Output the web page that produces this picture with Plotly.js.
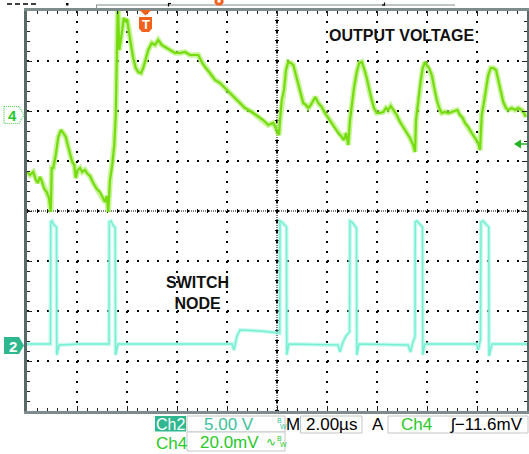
<!DOCTYPE html>
<html><head><meta charset="utf-8">
<script src="https://cdn.plot.ly/plotly-3.0.1.min.js"></script>
<style>html,body{margin:0;padding:0;background:#fff;overflow:hidden}#chart{width:529px;height:454px}</style>
</head><body><div id="chart"></div>
<script>
// Ch4: output voltage (AC, 20 mV/div), time in microseconds
const outTime = [0.00,0.12,0.25,0.35,0.43,0.52,0.59,0.69,0.79,0.88,
0.95,0.99,1.05,1.15,1.25,1.36,1.45,1.55,1.63,1.72,
1.81,1.89,1.95,2.03,2.12,2.21,2.32,2.43,2.52,2.65,
2.79,2.92,3.05,3.12,3.19,3.25,3.32,3.41,3.49,3.55,
3.59,3.63,3.65,3.69,3.76,3.81,3.87,3.95,4.00,4.08,
4.16,4.25,4.35,4.45,4.56,4.65,4.75,4.85,4.99,5.12,
5.25,5.39,5.52,5.72,5.92,6.12,6.32,6.52,6.72,6.85,
6.99,7.12,7.32,7.52,7.72,7.92,8.12,8.32,8.52,8.72,
8.99,9.25,9.45,9.65,9.85,9.99,10.08,10.12,10.19,10.28,
10.36,10.45,10.55,10.65,10.76,10.85,10.95,11.05,11.16,11.25,
11.35,11.45,11.53,11.65,11.79,11.92,12.05,12.19,12.32,12.45,
12.59,12.68,12.76,12.85,12.92,12.99,13.08,13.19,13.29,13.39,
13.48,13.59,13.69,13.79,13.88,13.99,14.12,14.25,14.36,14.45,
14.55,14.65,14.79,14.92,15.05,15.19,15.32,15.45,15.52,15.56,
15.65,15.75,15.83,15.92,15.99,16.09,16.19,16.28,16.39,16.49,
16.59,16.72,16.85,16.99,17.12,17.21,17.32,17.43,17.52,17.65,
17.79,17.92,18.05,18.12,18.19,18.28,18.36,18.45,18.55,18.65,
18.76,18.85,18.95,19.05,19.16,19.25,19.39,19.52,19.65,19.79,
19.88,19.96];
const outMilliVolts = [-22.8,-24.0,-22.8,-26.0,-27.2,-24.8,-26.4,-29.6,-30.8,-33.2,
-38.8,-21.2,-21.2,-16.0,-8.8,-6.0,-7.2,-8.8,-12.0,-16.0,
-18.8,-20.0,-25.2,-22.0,-21.2,-22.8,-22.0,-23.6,-24.4,-27.2,
-29.6,-30.8,-33.2,-34.8,-32.4,-38.8,-26.0,-20.0,-12.0,0.0,
22.0,44.0,41.2,26.0,32.0,34.0,38.8,37.2,38.4,34.0,
28.0,22.8,18.8,17.2,16.8,18.8,22.0,26.0,28.8,28.0,
30.0,28.0,27.2,26.0,24.8,24.8,25.2,24.0,24.0,24.0,
21.2,19.2,16.8,14.0,12.8,10.8,8.8,6.8,4.4,2.8,
1.2,-0.8,-2.0,-4.0,-3.2,-6.0,-8.0,-2.0,6.0,10.0,
18.0,21.2,20.8,20.0,16.0,12.0,8.0,4.8,4.0,2.8,
4.0,6.0,7.2,4.8,3.2,0.8,-1.2,-3.2,-5.2,-7.2,
-8.8,-10.0,-7.2,-12.0,-2.0,4.8,10.8,17.2,20.8,21.2,
18.8,14.8,10.0,6.0,2.8,0.8,0.8,1.2,2.8,2.0,
3.6,2.0,0.0,-2.8,-4.8,-7.2,-9.2,-12.0,-14.8,-2.0,
6.0,14.0,18.8,21.2,20.0,18.8,16.0,10.8,6.0,2.8,
0.8,1.2,0.8,1.2,1.6,2.0,0.0,-1.2,-3.2,-4.8,
-7.2,-9.2,-11.2,-14.0,0.0,5.2,10.8,16.0,18.8,18.8,
18.0,14.0,9.2,5.2,2.8,2.0,2.8,2.0,2.8,2.0,
0.8,-0.8];

// Ch2: switch node (5 V/div)
const swTime = [0,0.94,0.95,1.0,1.08,1.18,1.19,1.24,1.28,2.12,
3.28,3.29,3.36,3.44,3.53,3.54,3.60,3.64,8.2,8.28,
8.4,8.52,9.32,10.11,10.12,10.2,10.38,10.39,10.44,10.48,
12.44,12.52,12.64,12.76,12.9,12.92,13.0,13.18,13.19,13.24,
13.28,15.24,15.34,15.44,15.52,15.53,15.6,15.82,15.83,15.88,
15.92,17.98,18.05,18.14,18.16,18.24,18.47,18.48,18.54,18.6,20];
const swVolts = [0.1,0.1,12.3,12.4,12.0,11.8,-1.0,-0.5,0.0,0.1,
0.1,12.3,12.4,12.0,11.7,-1.0,-0.3,0.1,0.1,-0.5,
0.9,1.5,1.4,1.2,12.4,12.3,11.8,-1.0,-0.3,0.1,
0.0,-0.7,0.3,0.9,1.3,12.4,12.3,11.7,-1.0,-0.3,
0.1,0.0,-0.7,0.3,0.8,12.3,12.4,11.8,-1.0,-0.3,
0.1,0.1,-0.5,0.5,12.3,12.4,11.8,-1.1,-0.3,0.1,0.1];

// readout texts
const ch2Scale = '5.00 V';
const ch4Scale = '20.0mV';
const timeBase = '2.00\u00b5s';
const trigSource = 'Ch4';
const trigLevel = '\u0283\u221211.6mV';
const trigLevelMilliVolts = -11.6;
const ch4Ground = 0;
const ch2Ground = 0;

const FONT = 'Liberation Sans, Arial, sans-serif';
const GREEN = '#29c829';
const TEAL = '#2fb88f';
const TEALTXT = '#3cbf9d';
const ORANGE = '#f2621f';

// layout helpers (pixel -> paper)
const L = 27, T = 11, W = 500, H = 400;
const X = px => (px - L) / W;
const Y = py => (T + H - py) / H;

const shapes = [];
function line(x0,y0,x1,y1,color,width,dash,layer){
  shapes.push({type:'line',xref:'paper',yref:'paper',x0:X(x0),y0:Y(y0),x1:X(x1),y1:Y(y1),
    line:{color:color,width:width,dash:dash||'solid'},layer:layer||'above'});
}
function poly(pts,fill,lc,lw,dash){
  const d = pts.map((p,i)=>(i?'L':'M')+X(p[0])+','+Y(p[1])).join(' ')+' Z';
  shapes.push({type:'path',xref:'paper',yref:'paper',path:d,fillcolor:fill||'rgba(0,0,0,0)',
    line:{color:lc||'rgba(0,0,0,0)',width:lw||0,dash:dash||'solid'},layer:'above'});
}
function rect(x0,y0,x1,y1,fill,lc){
  shapes.push({type:'rect',xref:'paper',yref:'paper',x0:X(x0),y0:Y(y0),x1:X(x1),y1:Y(y1),
    fillcolor:fill||'rgba(0,0,0,0)',line:{color:lc||'rgba(0,0,0,0)',width:lc?1:0},layer:'above'});
}
const annotations = [];
function txt(s,px,py,color,size,opts){
  annotations.push(Object.assign({text:s,xref:'paper',yref:'paper',x:X(px),y:Y(py),showarrow:false,
    xanchor:'center',yanchor:'middle',font:{family:FONT,size:size,color:color}},opts||{}));
}

// centre crosshair (dense dotted with small ticks)
line(27,211,527,211,'#000',1,'1px,1px','below');
line(27,211,527,211,'#000',4,'1px,9px','below');
line(277,11,277,411,'#000',1,'1px,1px','below');
line(277,411,277,11,'#000',4,'1px,9px','below');

// top header decorations
line(7,4,36,4,'#000',1.5,'5px,3px');
rect(66,3,68.5,5.5,'#000');
line(96,5,455,5,'#a8b0b0',1.5);
line(96.5,5,96.5,9,'#8a9494',1);
line(168,3.5,171,3.5,'#000',1.2); line(168.5,3,168.5,6.5,'#000',1.2);
line(382,5,385,5,'#000',1.2); line(384.5,2.5,384.5,5.5,'#000',1.2);
// horizontal position marker (orange, partially visible)
poly([[214.5,0],[223.5,0],[223.5,3],[221,5.5],[217,5.5],[214.5,3]],ORANGE);
rect(217.5,0,220.5,2.5,'#fff');
// trigger marker T
poly([[139.5,10],[151.5,10],[145.5,15.5]],ORANGE);
poly([[139,17],[152,17],[152,28.5],[149,32],[142,32],[139,28.5]],ORANGE);
txt('<b>T</b>',145.5,24.5,'#fff',13);

// channel ground markers
poly([[4,106.5],[19,106.5],[24,115],[19,123.5],[4,123.5]],'rgba(0,0,0,0)','#52d052',1.2,'1px,1px');
txt('<b>4</b>',12.5,115.5,GREEN,15);
poly([[4,337],[19,337],[24,345.5],[19,354],[4,354]],TEAL);
txt('<b>2</b>',12.5,346,'#fff',15);

// trigger level marker on right
poly([[514,144],[521,139.5],[521,148.5]],'#22b422');
line(520,144,527,144,'#22b422',1.5);

// bottom readouts
rect(155,416,186,431.5,TEAL);
txt('Ch2',170.5,424,'#fff',16);
rect(187,416,285,432,'#fff','#c4c8c8');
txt(ch2Scale,229,424.5,TEALTXT,17);
txt('B',279.5,420.5,TEALTXT,7);
txt('W',283,426,TEALTXT,7);
txt('M',292.5,424.5,'#000',17);
rect(300.5,416,362,433,'#fff','#c4c8c8');
txt(timeBase,331,424.5,'#000',17);
txt('A',378,424.5,'#000',17);
rect(388,416,528,433,'#fff','#c4c8c8');
txt(trigSource,416,424.5,GREEN,17);
txt(trigLevel,486,424.5,'#000',17);
txt('Ch4',171,443,GREEN,17);
rect(187,432,285,451,'#fff','#c4c8c8');
txt(ch4Scale,229,442.5,GREEN,17);
txt('\u223f',271,442,GREEN,12);
txt('B',279.5,438.5,GREEN,7);
txt('W',283,444,GREEN,7);

// annotations for signals
txt('<b>OUTPUT VOLTAGE</b>',402,35,'#111',16);
txt('<b>SWITCH<br>NODE</b>',197.5,293,'#111',16);

const traces = [
  {x:outTime,y:outMilliVolts,yaxis:'y',mode:'lines',line:{color:'rgba(170,238,100,0.65)',width:5.5},hoverinfo:'skip',showlegend:false},
  {x:outTime,y:outMilliVolts,yaxis:'y',mode:'lines',line:{color:'#76dc10',width:2.2},hoverinfo:'skip',showlegend:false},
  {x:swTime,y:swVolts,yaxis:'y2',mode:'lines',line:{color:'rgba(160,246,226,0.6)',width:4},hoverinfo:'skip',showlegend:false},
  {x:swTime,y:swVolts,yaxis:'y2',mode:'lines',line:{color:'#78efd3',width:1.5},hoverinfo:'skip',showlegend:false}
];

const axisCommon = {
  showgrid:true, gridcolor:'#000', gridwidth:1.5, griddash:'2px,8px',
  zeroline:false, showticklabels:false, ticks:'inside', ticklen:5, tickwidth:1, tickcolor:'#222',
  showline:true, linewidth:3, mirror:'ticks', fixedrange:true
};
const layout = {
  width:529, height:454,
  margin:{l:27,r:2,t:11,b:43},
  paper_bgcolor:'#fff', plot_bgcolor:'#fff',
  showlegend:false,
  xaxis:Object.assign({}, axisCommon, {range:[0,20], tick0:0, dtick:2, linecolor:'#7f8c8c',
    minor:{dtick:0.4, tick0:0, ticks:'inside', ticklen:3, tickcolor:'#222', showgrid:false}}),
  yaxis:Object.assign({}, axisCommon, {range:[-118.4,41.6], tick0:-118.4, dtick:20, linecolor:'#5a6868',
    minor:{dtick:4, tick0:-118.4, ticks:'inside', ticklen:3, tickcolor:'#222', showgrid:false}}),
  yaxis2:{overlaying:'y', range:[-6.6,33.4], visible:false, fixedrange:true},
  shapes:shapes, annotations:annotations
};
Plotly.newPlot('chart', traces, layout, {displayModeBar:false, staticPlot:true});
</script>
</body></html>
